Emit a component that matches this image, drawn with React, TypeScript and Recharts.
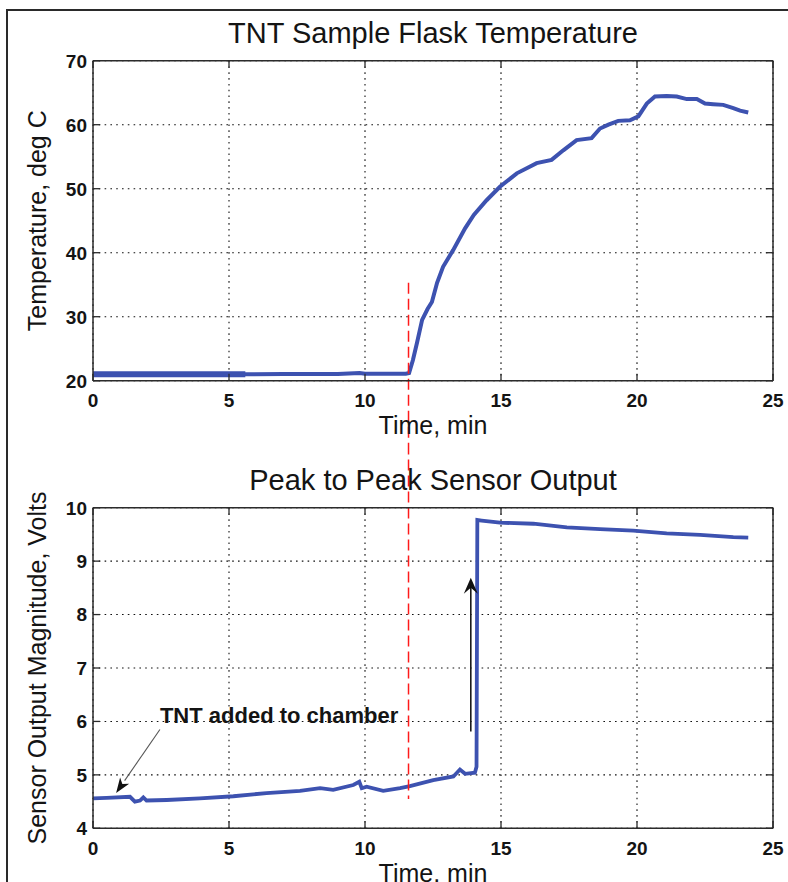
import React from 'react';
import { LineChart, Line, XAxis, YAxis, CartesianGrid, ReferenceLine } from 'recharts';

// ---------- data ----------
const timeTicks = [0, 5, 10, 15, 20, 25];
const tempTicks = [20, 30, 40, 50, 60, 70];
const voltTicks = [4, 5, 6, 7, 8, 9, 10];

// TNT sample flask temperature (deg C) vs time (min)
const tempTime = [0, 1, 2, 3, 4, 5, 5.6, 7, 8, 9, 9.8, 10, 10.8, 11.5, 11.62, 11.76, 11.91, 12.1, 12.3, 12.46, 12.65, 12.87, 13.24, 13.68, 14.0, 14.47, 14.96, 15.58, 16.31, 16.86, 17.29, 17.78, 18.33, 18.64, 18.95, 19.31, 19.74, 20.05, 20.36, 20.66, 21.09, 21.46, 21.83, 22.2, 22.5, 22.8, 23.17, 23.54, 23.79, 24.09];
const tempValue = [21.0, 21.0, 21.0, 21.0, 21.0, 21.0, 21.0, 21.05, 21.05, 21.05, 21.2, 21.1, 21.1, 21.1, 21.2, 23.2, 25.9, 29.5, 31.2, 32.3, 35.3, 37.8, 40.4, 43.8, 45.9, 48.2, 50.3, 52.4, 54.0, 54.5, 56.0, 57.6, 57.9, 59.4, 60.0, 60.6, 60.7, 61.3, 63.3, 64.4, 64.5, 64.4, 64.0, 64.0, 63.3, 63.2, 63.1, 62.6, 62.2, 61.9];

// noisy early section of the temperature trace (drawn thicker)
const bandTime = [0, 1, 2, 3, 4, 5, 5.6];
const bandValue = [21.0, 21.0, 21.0, 21.0, 21.0, 21.0, 21.0];

// Peak to peak sensor output (Volts) vs time (min)
const sensorTime = [0, 0.5, 1.36, 1.54, 1.73, 1.85, 1.97, 2.71, 3.93, 5.16, 6.38, 7.61, 8.35, 8.83, 9.57, 9.79, 9.88, 10.06, 10.67, 11.29, 11.65, 12.51, 13.25, 13.49, 13.68, 14.04, 14.1, 14.13, 14.29, 14.96, 16.19, 17.42, 18.64, 19.86, 21.09, 22.32, 23.54, 24.09];
const sensorValue = [4.56, 4.57, 4.59, 4.5, 4.52, 4.58, 4.52, 4.53, 4.56, 4.6, 4.66, 4.7, 4.75, 4.72, 4.81, 4.87, 4.75, 4.78, 4.7, 4.75, 4.79, 4.9, 4.97, 5.1, 5.02, 5.04, 5.15, 9.77, 9.76, 9.72, 9.7, 9.63, 9.6, 9.57, 9.52, 9.49, 9.45, 9.44];

// annotations (data coordinates)
const eventTime = 11.6;
const eventTopSpan = [35.3, 9.9];
const eventBottomSpan = [11.2, 4.55];
const jumpArrow = { t: 13.89, from: 5.81, to: 8.69 };
const noteArrow = { t0: 2.46, v0: 5.85, t1: 0.85, v1: 4.66, text: 'TNT added to chamber' };

const tempData = tempTime.map((t, i) => ({ t, v: tempValue[i] }));
const bandData = bandTime.map((t, i) => ({ t, v: bandValue[i] }));
const sensorData = sensorTime.map((t, i) => ({ t, v: sensorValue[i] }));

// ---------- styling ----------
const FONT = '"Liberation Sans", Arial, Helvetica, sans-serif';
const BLUE = '#3d52b0';
const AXIS = '#2b2b2b';
const TXT = '#141414';
const TICK_LEN = 7;
const TICK_FS = 19;

const BottomTick = (props: any) => {
  const { x, y, payload } = props;
  const base = y - 13;
  return (
    <g>
      <line x1={x} x2={x} y1={base} y2={base - TICK_LEN} stroke={AXIS} strokeWidth={1.3} />
      <text x={x} y={y} dy="0.72em" textAnchor="middle" fontFamily={FONT} fontWeight="bold" fontSize={TICK_FS} fill={TXT}>
        {payload.value}
      </text>
    </g>
  );
};

const LeftTick = (props: any) => {
  const { x, y, payload } = props;
  const base = x + 6;
  return (
    <g>
      <line x1={base} x2={base + TICK_LEN} y1={y} y2={y} stroke={AXIS} strokeWidth={1.3} />
      <text x={x} y={y} dy="0.36em" textAnchor="end" fontFamily={FONT} fontWeight="bold" fontSize={TICK_FS} fill={TXT}>
        {payload.value}
      </text>
    </g>
  );
};

const TopTick = (props: any) => {
  const { x, y } = props;
  return <line x1={x} x2={x} y1={y} y2={y + TICK_LEN} stroke={AXIS} strokeWidth={1.3} />;
};

const RightTick = (props: any) => {
  const { x, y } = props;
  return <line x1={x} x2={x - TICK_LEN} y1={y} y2={y} stroke={AXIS} strokeWidth={1.3} />;
};

const titleLabel = (text: string) => (props: any) => {
  const vb = props.viewBox || {};
  const cx = (vb.x ?? 93) + (vb.width ?? 680) / 2;
  const by = (vb.y ?? 0) + (vb.height ?? 60) - 17.4;
  return (
    <text x={cx} y={by} textAnchor="middle" fontFamily={FONT} fontSize={29} fill={TXT}>
      {text}
    </text>
  );
};

const xLabel = (text: string) => (props: any) => {
  const vb = props.viewBox || {};
  const cx = (vb.x ?? 93) + (vb.width ?? 680) / 2;
  const by = (vb.y ?? 0) + 53.5;
  return (
    <text x={cx} y={by} textAnchor="middle" fontFamily={FONT} fontSize={25} fill={TXT}>
      {text}
    </text>
  );
};

const yLabel = (text: string) => (props: any) => {
  const vb = props.viewBox || {};
  const cx = 46;
  const cy = (vb.y ?? 0) + (vb.height ?? 320) / 2;
  return (
    <text x={cx} y={cy} transform={`rotate(-90, ${cx}, ${cy})`} textAnchor="middle" fontFamily={FONT} fontSize={25} fill={TXT}>
      {text}
    </text>
  );
};

const verticalArrowShape = (props: any) => {
  const { x1, y1, x2, y2 } = props;
  return (
    <g>
      <line x1={x1} y1={y1} x2={x2} y2={y2 + 6} stroke="#1a1a1a" strokeWidth={1.6} />
      <polygon
        points={`${x2},${y2} ${x2 - 7},${y2 + 16} ${x2},${y2 + 10} ${x2 + 7},${y2 + 16}`}
        fill="#111"
      />
    </g>
  );
};

const noteArrowShape = (props: any) => {
  const { x1, y1, x2, y2 } = props;
  const dx = x2 - x1;
  const dy = y2 - y1;
  const len = Math.sqrt(dx * dx + dy * dy) || 1;
  const ux = dx / len;
  const uy = dy / len;
  const headLen = 15;
  const half = 5.5;
  const bx = x2 - ux * headLen;
  const by = y2 - uy * headLen;
  const px = -uy;
  const py = ux;
  return (
    <g>
      <line x1={x1} y1={y1} x2={bx} y2={by} stroke="#555" strokeWidth={1.1} />
      <polygon
        points={`${x2},${y2} ${bx + px * half},${by + py * half} ${bx + ux * 4},${by + uy * 4} ${bx - px * half},${by - py * half}`}
        fill="#111"
      />
      <text x={x1} y={y1 - 6} textAnchor="start" fontFamily={FONT} fontWeight="bold" fontSize={22} fill={TXT}>
        {noteArrow.text}
      </text>
    </g>
  );
};

const gridProps = { stroke: '#111', strokeDasharray: '1.6 4.2', strokeWidth: 1.1 };

export default function App() {
  return (
    <div style={{ position: 'absolute', left: 0, top: 0, width: 788, height: 882, background: '#fff', overflow: 'hidden' }}>
      <div
        style={{
          position: 'absolute',
          left: 6,
          top: 9,
          width: 800,
          height: 900,
          borderLeft: '2px solid #2a2a2a',
          borderTop: '2px solid #2a2a2a',
        }}
      />
      <div style={{ position: 'absolute', left: 0, top: 0 }}>
        <LineChart width={788} height={445} margin={{ top: 0, right: 0, bottom: 0, left: 0 }}>
          <CartesianGrid {...gridProps} />
          <XAxis
            xAxisId={0}
            dataKey="t"
            type="number"
            domain={[0, 25]}
            ticks={timeTicks}
            interval={0}
            allowDataOverflow
            height={64.3}
            tickSize={0}
            tickMargin={13}
            tickLine={false}
            axisLine={{ stroke: AXIS, strokeWidth: 1.5 }}
            tick={<BottomTick />}
            label={xLabel('Time, min')}
          />
          <XAxis
            xAxisId="top"
            orientation="top"
            dataKey="t"
            type="number"
            domain={[0, 25]}
            ticks={timeTicks}
            interval={0}
            allowDataOverflow
            height={60.7}
            tickSize={0}
            tickMargin={0}
            tickLine={false}
            axisLine={{ stroke: AXIS, strokeWidth: 1.5 }}
            tick={<TopTick />}
            label={titleLabel('TNT Sample Flask Temperature')}
          />
          <YAxis
            yAxisId={0}
            type="number"
            domain={[20, 70]}
            ticks={tempTicks}
            interval={0}
            allowDataOverflow
            width={93}
            tickSize={0}
            tickMargin={6}
            tickLine={false}
            axisLine={{ stroke: AXIS, strokeWidth: 1.5 }}
            tick={<LeftTick />}
            label={yLabel('Temperature, deg C')}
          />
          <YAxis
            yAxisId="right"
            orientation="right"
            type="number"
            domain={[20, 70]}
            ticks={tempTicks}
            interval={0}
            allowDataOverflow
            width={15}
            tickSize={0}
            tickMargin={0}
            tickLine={false}
            axisLine={{ stroke: AXIS, strokeWidth: 1.5 }}
            tick={<RightTick />}
          />
          <Line data={bandData} dataKey="v" type="linear" stroke={BLUE} strokeWidth={6} dot={false} isAnimationActive={false} />
          <Line data={tempData} dataKey="v" type="linear" stroke={BLUE} strokeWidth={4} dot={false} isAnimationActive={false} />
          <ReferenceLine
            segment={[
              { x: eventTime, y: eventTopSpan[0] },
              { x: eventTime, y: eventTopSpan[1] },
            ]}
            stroke="#ff1a1a"
            strokeWidth={1.5}
            strokeDasharray="11 5"
            ifOverflow="visible"
          />
        </LineChart>
      </div>
      <div style={{ position: 'absolute', left: 0, top: 445 }}>
        <LineChart width={788} height={437} margin={{ top: 0, right: 0, bottom: 0, left: 0 }}>
          <CartesianGrid {...gridProps} />
          <XAxis
            xAxisId={0}
            dataKey="t"
            type="number"
            domain={[0, 25]}
            ticks={timeTicks}
            interval={0}
            allowDataOverflow
            height={53.7}
            tickSize={0}
            tickMargin={13}
            tickLine={false}
            axisLine={{ stroke: AXIS, strokeWidth: 1.5 }}
            tick={<BottomTick />}
            label={xLabel('Time, min')}
          />
          <XAxis
            xAxisId="top"
            orientation="top"
            dataKey="t"
            type="number"
            domain={[0, 25]}
            ticks={timeTicks}
            interval={0}
            allowDataOverflow
            height={62.7}
            tickSize={0}
            tickMargin={0}
            tickLine={false}
            axisLine={{ stroke: AXIS, strokeWidth: 1.5 }}
            tick={<TopTick />}
            label={titleLabel('Peak to Peak Sensor Output')}
          />
          <YAxis
            yAxisId={0}
            type="number"
            domain={[4, 10]}
            ticks={voltTicks}
            interval={0}
            allowDataOverflow
            width={93}
            tickSize={0}
            tickMargin={6}
            tickLine={false}
            axisLine={{ stroke: AXIS, strokeWidth: 1.5 }}
            tick={<LeftTick />}
            label={yLabel('Sensor Output Magnitude, Volts')}
          />
          <YAxis
            yAxisId="right"
            orientation="right"
            type="number"
            domain={[4, 10]}
            ticks={voltTicks}
            interval={0}
            allowDataOverflow
            width={15}
            tickSize={0}
            tickMargin={0}
            tickLine={false}
            axisLine={{ stroke: AXIS, strokeWidth: 1.5 }}
            tick={<RightTick />}
          />
          <Line data={sensorData} dataKey="v" type="linear" stroke={BLUE} strokeWidth={3.8} dot={false} isAnimationActive={false} />
          <ReferenceLine
            segment={[
              { x: eventTime, y: eventBottomSpan[0] },
              { x: eventTime, y: eventBottomSpan[1] },
            ]}
            stroke="#ff1a1a"
            strokeWidth={1.5}
            strokeDasharray="11 5"
            ifOverflow="visible"
          />
          <ReferenceLine
            segment={[
              { x: jumpArrow.t, y: jumpArrow.from },
              { x: jumpArrow.t, y: jumpArrow.to },
            ]}
            ifOverflow="visible"
            shape={verticalArrowShape}
          />
          <ReferenceLine
            segment={[
              { x: noteArrow.t0, y: noteArrow.v0 },
              { x: noteArrow.t1, y: noteArrow.v1 },
            ]}
            ifOverflow="visible"
            shape={noteArrowShape}
          />
        </LineChart>
      </div>
    </div>
  );
}
